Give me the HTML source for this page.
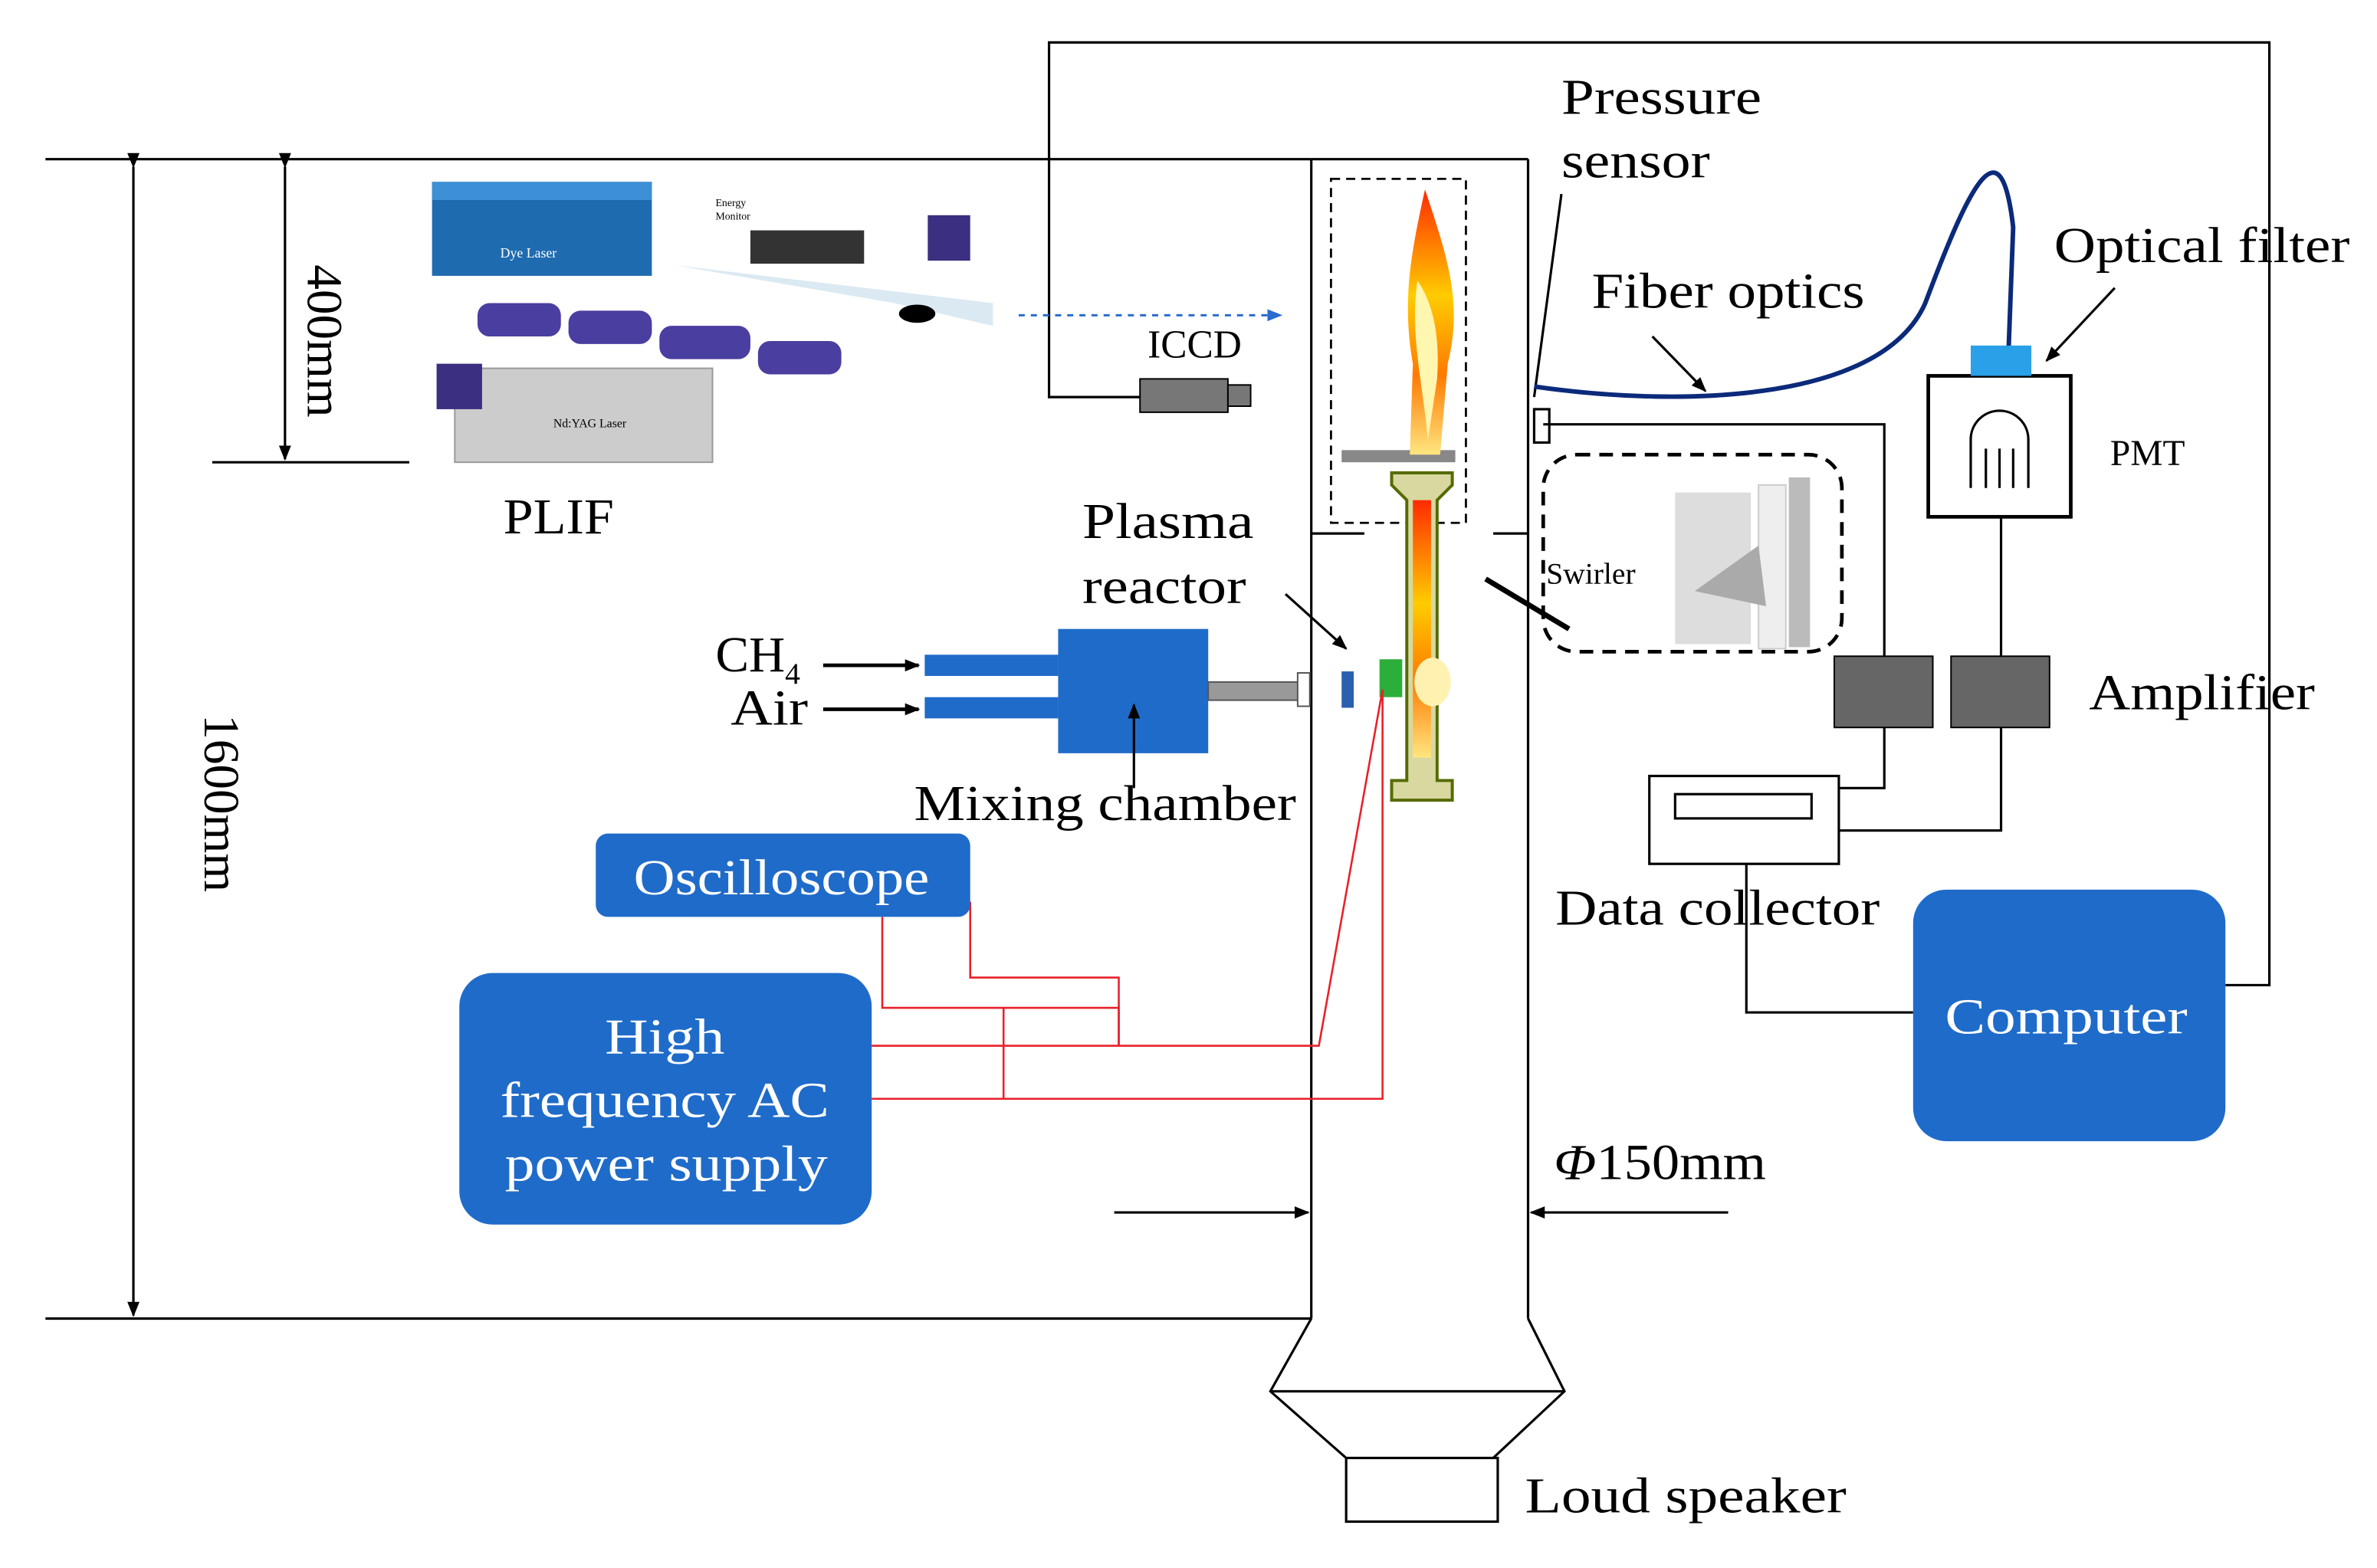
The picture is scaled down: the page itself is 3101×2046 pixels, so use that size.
<!DOCTYPE html>
<html><head><meta charset="utf-8"><style>
html,body{margin:0;padding:0;background:#fff}
svg{display:block}
text{font-family:"Liberation Serif",serif;fill:#000}
</style></head><body>
<svg width="3101" height="2046" viewBox="0 0 1568 1034.6" preserveAspectRatio="none" xmlns="http://www.w3.org/2000/svg">
<defs>
<marker id="ah" markerWidth="10" markerHeight="10" refX="9" refY="5" orient="auto" markerUnits="userSpaceOnUse"><path d="M0,1 L10,5 L0,9 Z" fill="#000"/></marker>
<marker id="bh" markerWidth="10" markerHeight="10" refX="9" refY="5" orient="auto" markerUnits="userSpaceOnUse"><path d="M0,1 L10,5 L0,9 Z" fill="#2a6ccf"/></marker>
<linearGradient id="fl" x1="0" y1="0" x2="0" y2="1"><stop offset="0" stop-color="#ff2a00"/><stop offset="0.4" stop-color="#ffcc00"/><stop offset="0.7" stop-color="#ff7a00"/><stop offset="1" stop-color="#ffe680"/></linearGradient>
</defs>
<g stroke="#000" stroke-width="1.6" fill="none">
<line x1="30" y1="105" x2="865" y2="105"/>
<line x1="30" y1="870" x2="865" y2="870"/>
<line x1="865" y1="105" x2="865" y2="870"/>
<line x1="865" y1="105" x2="1008" y2="105"/>
<line x1="1008" y1="105" x2="1008" y2="870"/>
<line x1="865" y1="352" x2="900" y2="352"/>
<line x1="985" y1="352" x2="1008" y2="352"/>
<polyline points="865,870 838,918 888,962"/>
<polyline points="1008,870 1032,918 985,962"/>
<line x1="838" y1="918" x2="1032" y2="918"/>
<rect x="888" y="962" width="100" height="42"/>
<line x1="88" y1="110" x2="88" y2="868" marker-start="url(#ah)" marker-end="url(#ah)"/>
<line x1="188" y1="110" x2="188" y2="303" marker-start="url(#ah)" marker-end="url(#ah)"/>
<line x1="140" y1="305" x2="270" y2="305"/>
<line x1="735" y1="800" x2="863" y2="800" marker-end="url(#ah)"/>
<line x1="1140" y1="800" x2="1010" y2="800" marker-end="url(#ah)"/>
<polyline points="752,262 692,262 692,28 1497,28 1497,650 1468,650"/>
<polyline points="1018,280 1243,280 1243,433"/>
<polyline points="1243,480 1243,520 1213,520"/>
<polyline points="1320,341 1320,433"/>
<polyline points="1320,480 1320,548 1213,548"/>
<polyline points="1152,570 1152,668 1262,668"/>
<rect x="1088" y="512" width="125" height="58"/>
<rect x="1105" y="524" width="90" height="16"/>
<rect x="1272" y="248" width="94" height="93" stroke-width="2.4"/>
<path d="M1300,322 L1300,290 A19,19 0 0 1 1338,290 L1338,322 M1310,322 V296 M1319,322 V296 M1328,322 V296"/>
<rect x="1012" y="270" width="10" height="22"/>
<line x1="1030" y1="128" x2="1012" y2="262"/>
<line x1="1395" y1="190" x2="1350" y2="238" marker-end="url(#ah)"/>
<line x1="1090" y1="222" x2="1125" y2="258" marker-end="url(#ah)"/>
<line x1="848" y1="392" x2="888" y2="428" marker-end="url(#ah)"/>
<line x1="543" y1="439" x2="606" y2="439" marker-end="url(#ah)" stroke-width="2.4"/>
<line x1="543" y1="468" x2="606" y2="468" marker-end="url(#ah)" stroke-width="2.4"/>
<line x1="980" y1="382" x2="1035" y2="415" stroke-width="3.5"/>
</g>
<rect x="878" y="118" width="89" height="227" fill="none" stroke="#000" stroke-width="1.4" stroke-dasharray="6,4"/>
<rect x="1018" y="300" width="197" height="130" rx="22" fill="none" stroke="#000" stroke-width="2.4" stroke-dasharray="9,6"/>
<line x1="672" y1="208" x2="845" y2="208" stroke="#2a6ccf" stroke-width="1.5" stroke-dasharray="4,4" marker-end="url(#bh)"/>
<path d="M1012,255 C1100,268 1240,268 1270,200 C1300,120 1320,80 1328,150 L1325,230" fill="none" stroke="#0b2a7a" stroke-width="3"/>
<rect x="1300" y="228" width="40" height="20" fill="#2aa0e8"/>
<rect x="1210" y="433" width="65" height="47" fill="#666" stroke="#000"/>
<rect x="1287" y="433" width="65" height="47" fill="#666" stroke="#000"/>
<rect x="1105" y="325" width="50" height="100" fill="#ddd"/><rect x="1180" y="315" width="14" height="112" fill="#bbb"/><rect x="1160" y="320" width="18" height="108" fill="#eee" stroke="#ccc"/>
<path d="M1118,390 L1160,360 L1165,400 Z" fill="#aaa"/>
<rect x="752" y="250" width="58" height="22" fill="#777" stroke="#000"/><rect x="810" y="254" width="15" height="14" fill="#777" stroke="#000"/>
<rect x="285" y="120" width="145" height="62" fill="#1f6bb0"/><rect x="285" y="120" width="145" height="12" fill="#3d8fd6"/>
<rect x="300" y="243" width="170" height="62" fill="#ccc" stroke="#999"/>
<rect x="288" y="240" width="30" height="30" fill="#3a2f80"/>
<rect x="315" y="200" width="55" height="22" rx="8" fill="#4a3ea0"/><rect x="375" y="205" width="55" height="22" rx="8" fill="#4a3ea0"/><rect x="435" y="215" width="60" height="22" rx="8" fill="#4a3ea0"/><rect x="500" y="225" width="55" height="22" rx="8" fill="#4a3ea0"/>
<rect x="495" y="152" width="75" height="22" fill="#333"/><rect x="612" y="142" width="28" height="30" fill="#3a2f80"/>
<path d="M590,200 L655,215 L655,200 L445,175 Z" fill="#cce0ec" opacity="0.7"/>
<ellipse cx="605" cy="207" rx="12" ry="6" fill="#000"/>
<text x="330" y="170" font-size="9" style="fill:#fff">Dye Laser</text><text x="365" y="282" font-size="8">Nd:YAG Laser</text>
<text x="472" y="136" font-size="7">Energy</text><text x="472" y="145" font-size="7">Monitor</text>
<rect x="610" y="432" width="88" height="14" fill="#1f6bc9"/><rect x="610" y="460" width="88" height="14" fill="#1f6bc9"/>
<rect x="698" y="415" width="99" height="82" fill="#1f6bc9"/>
<line x1="748" y1="520" x2="748" y2="465" stroke="#000" stroke-width="1.6" marker-end="url(#ah)"/>
<rect x="797" y="450" width="65" height="12" fill="#999" stroke="#555"/>
<rect x="856" y="444" width="8" height="22" fill="#fff" stroke="#555"/>
<rect x="885" y="443" width="8" height="24" fill="#2b5fb0"/>
<rect x="885" y="297" width="75" height="8" fill="#888"/>
<path d="M918,312 L958,312 L958,320 L948,330 L948,515 L958,515 L958,528 L918,528 L918,515 L928,515 L928,330 L918,320 Z" fill="#d8d8a0" stroke="#556b00" stroke-width="2"/>
<path d="M932,330 L944,330 L944,500 L932,500 Z" fill="url(#fl)"/>
<path d="M940,125 C930,170 925,200 932,240 L930,300 L950,300 L955,240 C965,200 955,170 940,125 Z" fill="url(#fl)"/>
<path d="M935,185 C930,220 938,250 942,290 L948,250 C950,220 945,200 935,185Z" fill="#fff6b0"/>
<rect x="910" y="435" width="15" height="25" fill="#2cae3a"/>
<ellipse cx="945" cy="450" rx="12" ry="16" fill="#fff2b0"/>
<g stroke="#e8202a" stroke-width="1.3" fill="none">
<polyline points="575,690 870,690 912,455"/>
<polyline points="575,725 912,725 912,455"/>
<polyline points="582,605 582,665 738,665 738,690"/>
<polyline points="640,595 640,645 738,645 738,690"/>
<line x1="662" y1="665" x2="662" y2="725"/>
</g>
<rect x="393" y="550" width="247" height="55" rx="8" fill="#1f6bc9"/>
<rect x="303" y="642" width="272" height="166" rx="22" fill="#1f6bc9"/>
<rect x="1262" y="587" width="206" height="166" rx="22" fill="#1f6bc9"/>
<g font-size="33">
<text x="418" y="590" textLength="195" lengthAdjust="spacingAndGlyphs" style="fill:#fff">Oscilloscope</text>
<text x="399" y="695" textLength="79" lengthAdjust="spacingAndGlyphs" style="fill:#fff">High</text>
<text x="330" y="737" textLength="217" lengthAdjust="spacingAndGlyphs" style="fill:#fff">frequency AC</text>
<text x="333" y="779" textLength="213" lengthAdjust="spacingAndGlyphs" style="fill:#fff">power supply</text>
<text x="1283" y="682" textLength="160" lengthAdjust="spacingAndGlyphs" style="fill:#fff">Computer</text>
<text x="332" y="352" textLength="73" lengthAdjust="spacingAndGlyphs">PLIF</text>
<text x="714" y="355" textLength="113" lengthAdjust="spacingAndGlyphs">Plasma</text><text x="714" y="398" textLength="108" lengthAdjust="spacingAndGlyphs">reactor</text>
<text x="472" y="443">CH<tspan font-size="20" dy="8">4</tspan></text>
<text x="482" y="478" textLength="51" lengthAdjust="spacingAndGlyphs">Air</text>
<text x="603" y="541" textLength="252" lengthAdjust="spacingAndGlyphs">Mixing chamber</text>
<text x="1030" y="75" textLength="132" lengthAdjust="spacingAndGlyphs">Pressure</text><text x="1030" y="117" textLength="98" lengthAdjust="spacingAndGlyphs">sensor</text>
<text x="1355" y="173" textLength="195" lengthAdjust="spacingAndGlyphs">Optical filter</text>
<text x="1050" y="203" textLength="180" lengthAdjust="spacingAndGlyphs">Fiber optics</text>
<text x="1378" y="468" textLength="149" lengthAdjust="spacingAndGlyphs">Amplifier</text>
<text x="1026" y="610" textLength="214" lengthAdjust="spacingAndGlyphs">Data collector</text>
<text x="1025" y="778" textLength="140" lengthAdjust="spacingAndGlyphs"><tspan font-style="italic">Φ</tspan>150mm</text>
<text x="1006" y="998" textLength="212" lengthAdjust="spacingAndGlyphs">Loud speaker</text>
<text transform="translate(203,225) rotate(90)" text-anchor="middle">400mm</text>
<text transform="translate(135,530) rotate(90)" text-anchor="middle">1600mm</text>
</g>
<text x="1392" y="307" font-size="24" font-family="Liberation Mono">PMT</text>
<text x="757" y="236" font-size="26" font-family="Liberation Mono">ICCD</text>
<text x="1020" y="385" font-size="20">Swirler</text>
</svg>
</body></html>
